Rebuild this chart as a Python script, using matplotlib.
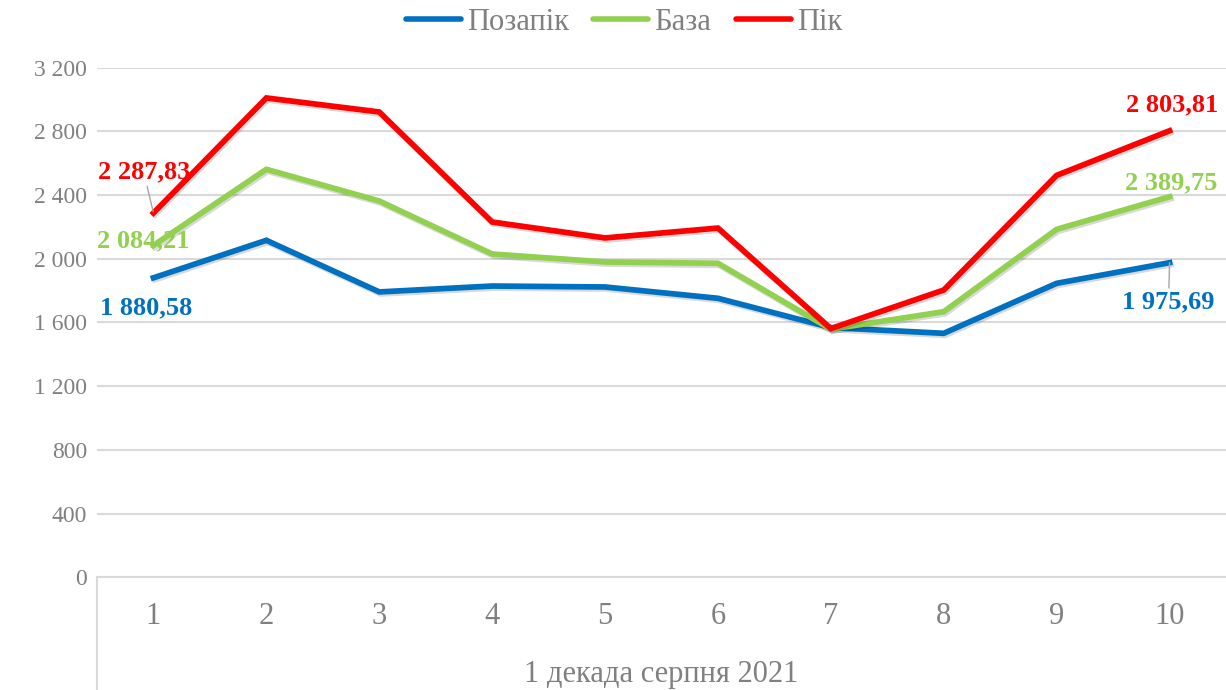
import matplotlib
matplotlib.use('Agg')
import matplotlib.pyplot as plt
import matplotlib.patheffects as pe
from matplotlib.ticker import FuncFormatter

plt.rcParams['font.family'] = ['Liberation Serif', 'DejaVu Serif']

# дані
days = [1, 2, 3, 4, 5, 6, 7, 8, 9, 10]
day_labels = ['1', '2', '3', '4', '5', '6', '7', '8', '9', '10']
pozapik = [1880.58, 2116, 1792, 1829, 1823, 1752, 1568, 1532, 1846, 1975.69]
baza = [2084.21, 2562, 2363, 2030, 1980, 1972, 1558, 1668, 2185, 2389.75]
pik = [2287.83, 3010, 2922, 2231, 2131, 2193, 1562, 1804, 2524, 2803.81]
group_label = '1 декада серпня 2021'

c_blue = '#0070C0'
c_green = '#92D050'
c_red = '#FF0000'
grey_txt = '#808080'


def fmt_num(v):
    return f"{v:,.2f}".replace(',', ' ').replace('.', ',')


fig = plt.figure(figsize=(12.26, 6.9), dpi=100)
ax = fig.add_axes([97 / 1226, 1 - 577.3 / 690, 1 - 97 / 1226, (577.3 - 67.7) / 690])

shadow = [pe.SimpleLineShadow(offset=(1, -1.5), shadow_color='black', alpha=0.15), pe.Normal()]
ax.plot(days, pozapik, color=c_blue, lw=4.1, label='Позапік', path_effects=shadow, zorder=3,
        solid_joinstyle='miter')
ax.plot(days, baza, color=c_green, lw=4.1, label='База', path_effects=shadow, zorder=4,
        solid_joinstyle='miter')
ax.plot(days, pik, color=c_red, lw=4.1, label='Пік', path_effects=shadow, zorder=5,
        solid_joinstyle='miter')

ax.set_xlim(0.5, 10.5)
ax.set_ylim(0, 3200)
ax.set_yticks(range(0, 3201, 400))
ax.yaxis.set_major_formatter(FuncFormatter(lambda v, p: f"{int(v):,}".replace(',', ' ')))
ax.set_xticks(days)
ax.set_xticklabels(day_labels)
ax.grid(axis='y', color='#d9d9d9', lw=1.5)
ax.set_axisbelow(True)
for s in ['top', 'right', 'left']:
    ax.spines[s].set_visible(False)
ax.spines['bottom'].set_color('#d9d9d9')
ax.spines['bottom'].set_linewidth(1.5)
ax.tick_params(axis='y', length=0, pad=7, labelsize=17, labelcolor=grey_txt)
ax.tick_params(axis='x', length=0, pad=18, labelsize=22, labelcolor=grey_txt)

# мультирівнева вісь категорій
ax.plot([0, 0], [0, -0.24], transform=ax.transAxes, color='#d9d9d9', lw=1.5, clip_on=False)
ax.text(0.5, -0.19, group_label, transform=ax.transAxes, ha='center', va='center',
        fontsize=22, color=grey_txt)

# підписи даних
lab_kw = dict(textcoords='offset points', ha='center', va='center', fontsize=19,
              fontweight='bold', zorder=6)
ax.annotate(fmt_num(pik[0]), (days[0], pik[0]), xytext=(-7, 29.5), color=c_red,
            arrowprops=dict(arrowstyle='-', color='#a6a6a6', lw=1, shrinkA=0, shrinkB=1), **lab_kw)
ax.annotate(fmt_num(baza[0]), (days[0], baza[0]), xytext=(-7, 3.6), color=c_green, **lab_kw)
ax.annotate(fmt_num(pozapik[0]), (days[0], pozapik[0]), xytext=(-5, -21.5), color=c_blue, **lab_kw)
ax.annotate(fmt_num(pik[-1]), (days[-1], pik[-1]), xytext=(2, 18.5), color=c_red, **lab_kw)
ax.annotate(fmt_num(baza[-1]), (days[-1], baza[-1]), xytext=(1.5, 10), color=c_green, **lab_kw)
ax.annotate(fmt_num(pozapik[-1]), (days[-1], pozapik[-1]), xytext=(-0.7, -28.5), color=c_blue,
            arrowprops=dict(arrowstyle='-', color='#a6a6a6', lw=1, shrinkA=0, shrinkB=0), **lab_kw)

leg = fig.legend(loc='center', bbox_to_anchor=(0.509, 1 - 22 / 690), ncol=3, frameon=False,
                 fontsize=22, handlelength=1.8, handletextpad=0.2, columnspacing=0.8)
for t in leg.get_texts():
    t.set_color(grey_txt)
for h in leg.get_lines():
    h.set_linewidth(4)
    h.set_path_effects([])
    h.set_solid_capstyle('round')

fig.savefig('out.png', dpi=100)
